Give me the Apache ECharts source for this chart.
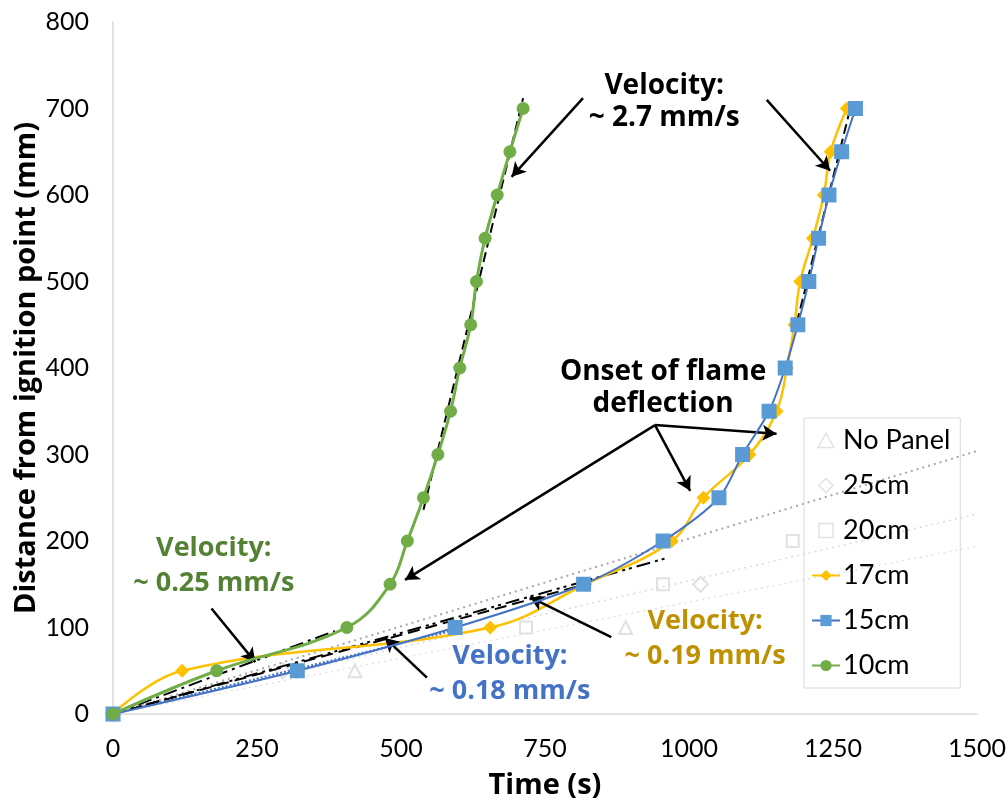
<!DOCTYPE html>
<html>
<head>
<meta charset="utf-8">
<script src="https://cdn.jsdelivr.net/npm/echarts@6/dist/echarts.min.js"></script>
<style>html,body{margin:0;padding:0;background:#fff}#c{width:1008px;height:808px}</style>
</head>
<body>
<div id="c"></div>
<script>
// ---- data ----
const xTicks = [0, 250, 500, 750, 1000, 1250, 1500];
const yTicks = [0, 100, 200, 300, 400, 500, 600, 700, 800];
const seriesNames = ['No Panel', '25cm', '20cm', '17cm', '15cm', '10cm'];
const noPanel = [[0, 0], [420, 50], [890, 100]];
const cm25 = [[0, 0], [295, 50], [1020, 150]];
const cm20 = [[0, 0], [717, 100], [955, 150], [1180, 200]];
const cm17 = [[0, 0], [120, 50], [655, 100], [820, 150], [970, 200], [1025, 250], [1105, 300], [1152, 350], [1170, 400], [1183, 450], [1193, 500], [1215, 550], [1234, 600], [1246, 650], [1274, 700]];
const cm15 = [[0, 0], [320, 50], [594, 100], [817, 150], [955, 200], [1052, 250], [1093, 300], [1139, 350], [1167, 400], [1189, 450], [1208, 500], [1225, 550], [1243, 600], [1265, 650], [1289, 700]];
const cm10 = [[0, 0], [180, 50], [406, 100], [481, 150], [511, 200], [539, 250], [564, 300], [586, 350], [602, 400], [621, 450], [631, 500], [646, 550], [667, 600], [689, 650], [712, 700]];
// fitted / trend lines (start & end points)
const fit10slow = [[0, 0], [385, 96]];
const fit17slow = [[0, 0], [965, 181]];
const fit15slow = [[0, 0], [820, 150]];
const fit15dot = [[0, 0], [600, 98]];
const fit10fast = [[539, 236], [712, 712]];
const fitFast1517 = [[1187, 452], [1280, 700]];
const trendA = [[0, 0], [1500, 304]];
const trendB = [[0, 0], [1500, 231]];
const trendC = [[0, 0], [1500, 194]];
// annotation arrows [from, to]
const arrows = [
  [[816, 712], [692, 621]],
  [[1135, 710], [1245, 628]],
  [[941, 334], [507, 155]],
  [[941, 334], [1002, 258]],
  [[941, 334], [1152, 324]],
  [[171, 122], [247, 60]],
  [[545, 42], [472, 88]],
  [[865, 89], [724, 135]]
];
// annotation texts: [text, [x, y], colour]
const notes = [
  ['Velocity:\n~ 2.7 mm/s', [957, 707], '#000000'],
  ['Onset of flame\ndeflection', [955, 377], '#000000'],
  ['Velocity:\n~ 0.25 mm/s', [175, 171], '#548235'],
  ['Velocity:\n~ 0.18 mm/s', [689, 46], '#4472C4'],
  ['Velocity:\n~ 0.19 mm/s', [1028, 87], '#BF9000']
];

const FONT = 'Lato';
const BOLD = '"Open Sans"';
const chart = echarts.init(document.getElementById('c'), null, {renderer: 'canvas'});

function fitLine(data, color, type, width) {
  return {type: 'line', data: data, symbol: 'none', silent: true, z: 3,
    lineStyle: {color: color, type: type, width: width || 2}, animation: false};
}
const hollow = {color: '#ffffff', borderColor: '#d9d9d9', borderWidth: 1.5};
const legendData = [
  {name: 'No Panel', icon: 'path://M6,0 L12,10.4 L0,10.4 Z', itemStyle: hollow},
  {name: '25cm', icon: 'path://M6,0 L12,6 L6,12 L0,6 Z', itemStyle: hollow},
  {name: '20cm', icon: 'path://M0,0 L10,0 L10,10 L0,10 Z', itemStyle: hollow},
  {name: '17cm'}, {name: '15cm'}, {name: '10cm'}
];

const option = {
  animation: false,
  textStyle: {fontFamily: FONT},
  grid: {left: 113, right: 31, top: 22, bottom: 94, containLabel: false, outerBoundsMode: 'none'},
  xAxis: {
    type: 'value', min: 0, max: 1500, interval: 250,
    name: 'Time (s)', nameLocation: 'middle', nameGap: 57, nameMoveOverlap: false,
    nameTextStyle: {fontFamily: BOLD, fontSize: 29, fontWeight: 'bold', color: '#000'},
    axisLine: {show: true, lineStyle: {color: '#d9d9d9', width: 1.5}},
    axisTick: {show: false}, splitLine: {show: false},
    axisLabel: {fontFamily: FONT, fontSize: 25, color: '#000', margin: 22,
      formatter: v => String(v)}
  },
  yAxis: {
    type: 'value', min: 0, max: 800, interval: 100,
    name: 'Distance from ignition point (mm)', nameLocation: 'middle', nameGap: 72, nameMoveOverlap: false,
    nameTextStyle: {fontFamily: BOLD, fontSize: 29, fontWeight: 'bold', color: '#000'},
    axisLine: {show: true, lineStyle: {color: '#d9d9d9', width: 1.5}},
    axisTick: {show: false}, splitLine: {show: false},
    axisLabel: {fontFamily: FONT, fontSize: 25, color: '#000', margin: 24,
      formatter: v => String(v)}
  },
  legend: {
    data: legendData, orient: 'vertical', left: 804, top: 418,
    borderColor: '#d9d9d9', borderWidth: 1, padding: [9, 10, 9, 7],
    itemGap: 18, itemWidth: 28, itemHeight: 14, symbolKeepAspect: true,
    textStyle: {fontFamily: FONT, fontSize: 27, color: '#000', padding: [0, 0, 0, -2]}
  },
  series: [
    fitLine(trendA, '#a6a6a6', [2, 4], 2),
    fitLine(trendB, '#d9d9d9', [2, 4], 1.5),
    fitLine(trendC, '#e3e3e3', [2, 4], 1.5),
    fitLine(fit15dot, '#4472C4', [2, 2], 2),
    {name: 'No Panel', type: 'scatter', data: noPanel, symbol: 'emptyTriangle', symbolSize: 13, z: 2,
      itemStyle: {color: '#d9d9d9', borderColor: '#d9d9d9', borderWidth: 2}},
    {name: '25cm', type: 'scatter', data: cm25, symbol: 'emptyDiamond', symbolSize: 15, z: 2,
      itemStyle: {color: '#d9d9d9', borderColor: '#d9d9d9', borderWidth: 2}},
    {name: '20cm', type: 'scatter', data: cm20, symbol: 'emptyRect', symbolSize: 12, z: 2,
      itemStyle: {color: '#d9d9d9', borderColor: '#d9d9d9', borderWidth: 2}},
    {name: '17cm', type: 'line', data: cm17, smooth: 0.4, symbol: 'diamond', symbolSize: 14, z: 4,
      itemStyle: {color: '#FFC000'}, lineStyle: {color: '#FFC000', width: 2.5}},
    {name: '15cm', type: 'line', data: cm15, smooth: 0.3, symbol: 'rect', symbolSize: 15, z: 5,
      itemStyle: {color: '#5B9BD5'}, lineStyle: {color: '#4472C4', width: 2}},
    {name: '10cm', type: 'line', data: cm10, smooth: 0.4, symbol: 'circle', symbolSize: 13, z: 6,
      itemStyle: {color: '#70AD47'}, lineStyle: {color: '#70AD47', width: 3}},
    fitLine(fit10slow, '#000', [14, 5, 3, 5], 2),
    fitLine(fit17slow, '#000', [14, 5, 3, 4, 3, 5], 2),
    fitLine(fit15slow, '#000', [12, 6], 2),
    fitLine(fit10fast, '#000', [10, 5], 2),
    fitLine(fitFast1517, '#000', [10, 5], 2),
    {type: 'line', data: [], silent: true, z: 8, symbol: 'none',
      markLine: {silent: true, symbol: ['none', 'arrow'], symbolSize: [12, 14], animation: false,
        label: {show: false}, emphasis: {disabled: true},
        lineStyle: {color: '#000', type: 'solid', width: 2.5},
        data: arrows.map(a => [{coord: a[0]}, {coord: a[1]}])}}
  ]
};
chart.setOption(option);

const graphics = notes.map(n => {
  const black = n[2] === '#000000';
  const p = chart.convertToPixel({gridIndex: 0}, n[1]);
  return {type: 'text', x: p[0], y: p[1], z: 100,
    style: {text: n[0], fill: n[2], font: 'bold ' + (black ? 28 : 27) + 'px ' + BOLD,
      align: 'center', verticalAlign: 'middle', lineHeight: black ? 32 : 35}};
});
chart.setOption({graphic: graphics});
</script>
</body>
</html>
